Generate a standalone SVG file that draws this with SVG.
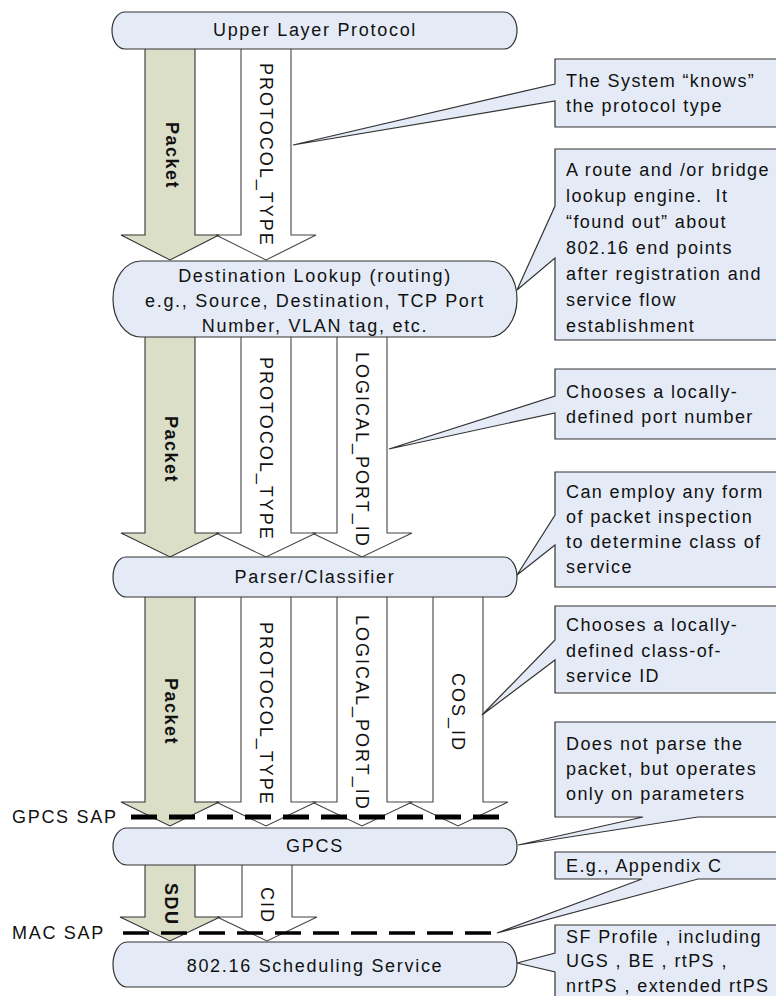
<svg xmlns="http://www.w3.org/2000/svg" width="776" height="996" viewBox="0 0 776 996">
<style>
  .t { font-family: "Liberation Sans", Arial, sans-serif; font-size: 18px; letter-spacing: 1.7px; fill: #111; }
  .k { font-family: "Liberation Sans", Arial, sans-serif; font-size: 18px; letter-spacing: 1.4px; fill: #111; }
  .c { text-anchor: middle; }
  .v { font-family: "Liberation Sans", Arial, sans-serif; font-size: 18px; letter-spacing: 2px; fill: #111; }
  .vb { font-family: "Liberation Sans", Arial, sans-serif; font-size: 18px; font-weight: bold; letter-spacing: 1.5px; fill: #111; }
  .node { fill: #e5ebf6; stroke: #333; stroke-width: 1.2; }
  .call { fill: #e5ebf6; stroke: #333; stroke-width: 1.2; }
  .pk { fill: #dcdfc7; stroke: #333; stroke-width: 1.1; }
  .wa { fill: #fff; stroke: #444; stroke-width: 1.1; }
  .sap1 { stroke: #000; stroke-width: 5; stroke-dasharray: 26 12; fill: none; }
  .sap2 { stroke: #000; stroke-width: 3.5; stroke-dasharray: 26 12; fill: none; }
</style>

<g id="connectors">
  <!-- Section 1 -->
  <polygon class="wa" points="241,47 291,47 291,235 316,235 266,260 216,235 241,235"/>
  <polygon class="pk" points="145,47 195,47 195,235 219,235 170,260 121,235 145,235"/>
  <!-- Section 2 -->
  <polygon class="wa" points="337,335 387,335 387,533 412,533 362,557 312,533 337,533"/>
  <polygon class="wa" points="241,335 291,335 291,533 316,533 266,557 216,533 241,533"/>
  <polygon class="pk" points="145,335 195,335 195,533 219,533 170,557 121,533 145,533"/>
  <!-- Section 3 -->
  <polygon class="wa" points="433,595 483,595 483,802 508,802 458,826 408,802 433,802"/>
  <polygon class="wa" points="337,595 387,595 387,802 412,802 362,826 312,802 337,802"/>
  <polygon class="wa" points="241,595 291,595 291,802 316,802 266,826 216,802 241,802"/>
  <polygon class="pk" points="145,595 195,595 195,802 219,802 170,826 121,802 145,802"/>
  <!-- Section 4 -->
  <polygon class="wa" points="242,863 292,863 292,917 317,917 267,941 217,917 242,917"/>
  <polygon class="pk" points="145,863 195,863 195,917 220,917 170,941 120,917 145,917"/>

  <!-- Arrow labels -->
  <text class="vb" transform="translate(166,122) rotate(90)">Packet</text>
  <text class="v" transform="translate(259.5,63) rotate(90)">PROTOCOL_TYPE</text>

  <text class="vb" transform="translate(165,416) rotate(90)">Packet</text>
  <text class="v" transform="translate(259.5,357) rotate(90)">PROTOCOL_TYPE</text>
  <text class="v" transform="translate(356,352) rotate(90)">LOGICAL_PORT_ID</text>

  <text class="vb" transform="translate(165,678) rotate(90)">Packet</text>
  <text class="v" transform="translate(259.5,622) rotate(90)">PROTOCOL_TYPE</text>
  <text class="v" transform="translate(356,615) rotate(90)">LOGICAL_PORT_ID</text>
  <text class="v" transform="translate(452,673) rotate(90)">COS_ID</text>

  <text class="vb" transform="translate(165,883) rotate(90)">SDU</text>
  <text class="v" transform="translate(261,887) rotate(90)">CID</text>

  <!-- SAP lines -->
  <line class="sap1" x1="131" y1="817" x2="500" y2="817"/>
  <line class="sap2" x1="123" y1="933" x2="497" y2="933"/>
  <text class="t" x="12" y="823">GPCS SAP</text>
  <text class="t" x="12" y="939">MAC SAP</text>
</g>

<g id="upper-layer-protocol">
  <rect class="node" x="112" y="12" width="405" height="37" rx="13" ry="18.5"/>
  <text class="t c" x="315" y="36">Upper Layer Protocol</text>
</g>

<g id="destination-lookup">
  <rect class="node" x="113" y="261" width="404" height="76" rx="28" ry="38"/>
  <text class="t c" x="315" y="282">Destination Lookup (routing)</text>
  <text class="t c" x="315" y="307">e.g., Source, Destination, TCP Port</text>
  <text class="t c" x="315" y="332">Number, VLAN tag, etc.</text>
</g>

<g id="parser-classifier">
  <rect class="node" x="113" y="557" width="404" height="40" rx="13" ry="20"/>
  <text class="t c" x="315" y="583">Parser/Classifier</text>
</g>

<g id="gpcs">
  <rect class="node" x="113" y="828" width="404" height="37" rx="14" ry="18.5"/>
  <text class="t c" x="315" y="852">GPCS</text>
</g>

<g id="scheduling-service">
  <rect class="node" x="113" y="942" width="404" height="45" rx="14" ry="22.5"/>
  <text class="t c" x="315" y="972">802.16 Scheduling Service</text>
</g>

<g id="callout-protocol-type">
  <path class="call" d="M780,59 H555 V84 L293,145 L555,101 V127 H780"/>
  <text class="k" x="566" y="87">The System “knows”</text>
  <text class="k" x="566" y="112">the protocol type</text>
</g>

<g id="callout-route-lookup">
  <path class="call" d="M780,149 H555 V206 L517,290 L555,258 V340 H780"/>
  <text class="k" x="566" y="176">A route and /or bridge</text>
  <text class="k" x="566" y="202" xml:space="preserve">lookup engine.  It</text>
  <text class="k" x="566" y="228">“found out” about</text>
  <text class="k" x="566" y="254">802.16 end points</text>
  <text class="k" x="566" y="280">after registration and</text>
  <text class="k" x="566" y="306">service flow</text>
  <text class="k" x="566" y="332">establishment</text>
</g>

<g id="callout-port-number">
  <path class="call" d="M780,369 H555 V396 L389,449 L555,413 V439 H780"/>
  <text class="k" x="566" y="398">Chooses a locally-</text>
  <text class="k" x="566" y="423">defined port number</text>
</g>

<g id="callout-inspection">
  <path class="call" d="M780,472 H555 V515 L517,575 L555,545 V587 H780"/>
  <text class="k" x="566" y="498">Can employ any form</text>
  <text class="k" x="566" y="523">of packet inspection</text>
  <text class="k" x="566" y="548">to determine class of</text>
  <text class="k" x="566" y="573">service</text>
</g>

<g id="callout-cos-id">
  <path class="call" d="M780,606 H555 V640 L482,715 L555,660 V693 H780"/>
  <text class="k" x="566" y="631">Chooses a locally-</text>
  <text class="k" x="566" y="657">defined class-of-</text>
  <text class="k" x="566" y="682">service ID</text>
</g>

<g id="callout-gpcs">
  <path class="call" d="M780,817 H698 L518,845 L643,817 H555 V722 H780"/>
  <text class="k" x="566" y="750">Does not parse the</text>
  <text class="k" x="566" y="775">packet, but operates</text>
  <text class="k" x="566" y="800">only on parameters</text>
</g>

<g id="callout-appendix">
  <path class="call" d="M780,879 H698 L497,933 L642,879 H555 V852 H780"/>
  <text class="k" x="566" y="872">E.g., Appendix C</text>
</g>

<g id="callout-sf-profile">
  <path class="call" d="M780,925 H555 V953 L517,963 L555,972 V1000 H780"/>
  <text class="k" x="566" y="943">SF Profile , including</text>
  <text class="k" x="566" y="967">UGS , BE , rtPS ,</text>
  <text class="k" x="566" y="992">nrtPS , extended rtPS</text>
</g>
</svg>
